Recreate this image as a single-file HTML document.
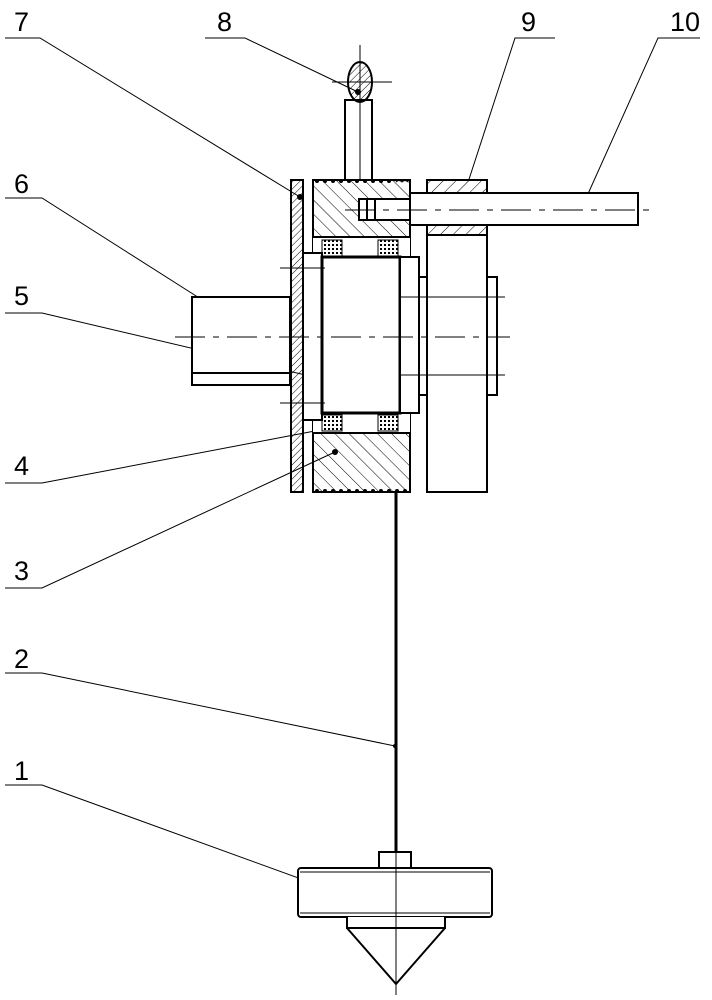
<!DOCTYPE html>
<html><head><style>body{margin:0;background:#fff}svg{display:block}</style></head>
<body>
<svg width="712" height="1000" viewBox="0 0 712 1000" xmlns="http://www.w3.org/2000/svg">
<defs>
<pattern id="h" width="10" height="10" patternUnits="userSpaceOnUse" patternTransform="rotate(-45)"><line x1="0" y1="0" x2="0" y2="10" stroke="#000" stroke-width="1"/></pattern>
<pattern id="h2" width="5" height="5" patternUnits="userSpaceOnUse" patternTransform="rotate(45)"><line x1="0" y1="0" x2="0" y2="5" stroke="#000" stroke-width="1"/></pattern>
<pattern id="h3" width="9" height="9" patternUnits="userSpaceOnUse" patternTransform="rotate(45)"><line x1="0" y1="0" x2="0" y2="9" stroke="#000" stroke-width="1"/></pattern>
<pattern id="hb" width="4" height="4" patternUnits="userSpaceOnUse"><rect width="2" height="2" fill="#000"/></pattern>
</defs>
<g font-family="Liberation Sans Narrow, Liberation Sans, sans-serif" font-size="27" fill="#000">
<text x="14" y="31">7</text><text x="217" y="31">8</text><text x="521" y="31">9</text><text x="670" y="31">10</text>
<text x="14" y="193">6</text><text x="14" y="305">5</text><text x="14" y="475">4</text><text x="14" y="580">3</text><text x="14" y="668">2</text><text x="14" y="780">1</text>
</g>
<g stroke="#000" stroke-width="1" fill="none">
<polyline points="5,38 40,38 300,197"/>
<polyline points="205,38 245,38 358,92"/>
<polyline points="555,38 515,38 445,253"/>
<polyline points="700,38 658,38 583,205"/>
<polyline points="5,198 42,198 215,308"/>
<polyline points="5,313 42,313 352,386"/>
<polyline points="5,483 42,483 320,430"/>
<polyline points="5,588 42,588 335,452"/>
<polyline points="5,673 42,673 395,746"/>
<polyline points="5,785 42,785 348,896"/>
</g>
<g fill="#000">
<circle cx="300" cy="197" r="3"/><circle cx="358" cy="92" r="3"/><circle cx="445" cy="253" r="3"/><circle cx="583" cy="205" r="3"/>
<circle cx="215" cy="308" r="3"/><circle cx="352" cy="386" r="3"/><circle cx="320" cy="430" r="3"/><circle cx="335" cy="452" r="3"/><circle cx="395" cy="746" r="2"/><circle cx="348" cy="896" r="3"/>
</g>
<g stroke="#000" stroke-width="2" fill="none">
<rect x="345" y="100" width="27" height="80" fill="#fff"/>
<ellipse cx="360" cy="82" rx="12" ry="20" fill="url(#h2)"/>
<rect x="192" y="297" width="98" height="88" fill="#fff"/>
<line x1="192" y1="373" x2="290" y2="373"/>
<rect x="291" y="180" width="12" height="312" fill="url(#h2)"/>
<path d="M313,180 H410 V492 H313 Z" fill="url(#h)"/>
<rect x="313" y="237" width="97" height="196" fill="#fff" stroke="none"/>
<line x1="313" y1="237" x2="410" y2="237"/><line x1="313" y1="433" x2="410" y2="433"/>
<rect x="322" y="240" width="20" height="16" fill="url(#hb)" stroke-width="1"/>
<rect x="378" y="240" width="20" height="16" fill="url(#hb)" stroke-width="1"/>
<rect x="322" y="415" width="20" height="16" fill="url(#hb)" stroke-width="1"/>
<rect x="378" y="415" width="20" height="16" fill="url(#hb)" stroke-width="1"/>
<rect x="303" y="253" width="19" height="167" fill="#fff"/>
<rect x="322" y="257" width="78" height="156" fill="#fff" stroke-width="3"/>
<rect x="400" y="257" width="19" height="156" fill="#fff"/>
<rect x="419" y="277" width="8" height="118" fill="#fff"/>
<rect x="359" y="199" width="51" height="21" fill="#fff"/>
<line x1="367" y1="199" x2="367" y2="220"/><line x1="375" y1="199" x2="375" y2="220"/>
<rect x="427" y="180" width="60" height="312" fill="#fff"/>
<rect x="427" y="180" width="60" height="55" fill="url(#h3)"/>
<rect x="487" y="277" width="10" height="118" fill="#fff"/>
<rect x="410" y="193" width="228" height="32" fill="#fff"/>
<line x1="396" y1="492" x2="396" y2="852" stroke-width="3"/>
<rect x="379" y="852" width="32" height="16" fill="#fff"/>
<rect x="298" y="868" width="194" height="49" rx="3" fill="#fff"/>
<line x1="300" y1="872" x2="490" y2="872" stroke-width="1"/><line x1="300" y1="913" x2="490" y2="913" stroke-width="1"/>
<path d="M347,917 V928 H445 V917 M347,928 L396,984 L445,928" fill="#fff"/>
</g>
<g fill="#000">
<circle cx="317" cy="181" r="2"/><circle cx="325" cy="181" r="2"/><circle cx="333" cy="181" r="2"/><circle cx="341" cy="181" r="2"/><circle cx="349" cy="181" r="2"/><circle cx="357" cy="181" r="2"/><circle cx="365" cy="181" r="2"/><circle cx="373" cy="181" r="2"/><circle cx="381" cy="181" r="2"/><circle cx="389" cy="181" r="2"/>
<circle cx="317" cy="491" r="2"/><circle cx="325" cy="491" r="2"/><circle cx="333" cy="491" r="2"/><circle cx="341" cy="491" r="2"/><circle cx="349" cy="491" r="2"/><circle cx="357" cy="491" r="2"/><circle cx="365" cy="491" r="2"/><circle cx="373" cy="491" r="2"/><circle cx="381" cy="491" r="2"/><circle cx="389" cy="491" r="2"/><circle cx="397" cy="491" r="2"/><circle cx="405" cy="491" r="2"/>
</g>
<g stroke="#000" stroke-width="1" fill="none">
<path d="M396,182 q3,-3 6,0 q3,-3 6,0"/>
<line x1="360" y1="45" x2="360" y2="180"/><line x1="332" y1="82" x2="392" y2="82"/>
<path d="M175,337 H510" stroke-dasharray="30,8,6,8"/>
<line x1="280" y1="268" x2="325" y2="268"/><line x1="280" y1="403" x2="325" y2="403"/>
<line x1="400" y1="297" x2="505" y2="297"/><line x1="400" y1="375" x2="505" y2="375"/>
<path d="M345,210 H655" stroke-dasharray="30,8,6,8"/>
<line x1="396" y1="852" x2="396" y2="995"/>
</g>
</svg>
</body></html>
